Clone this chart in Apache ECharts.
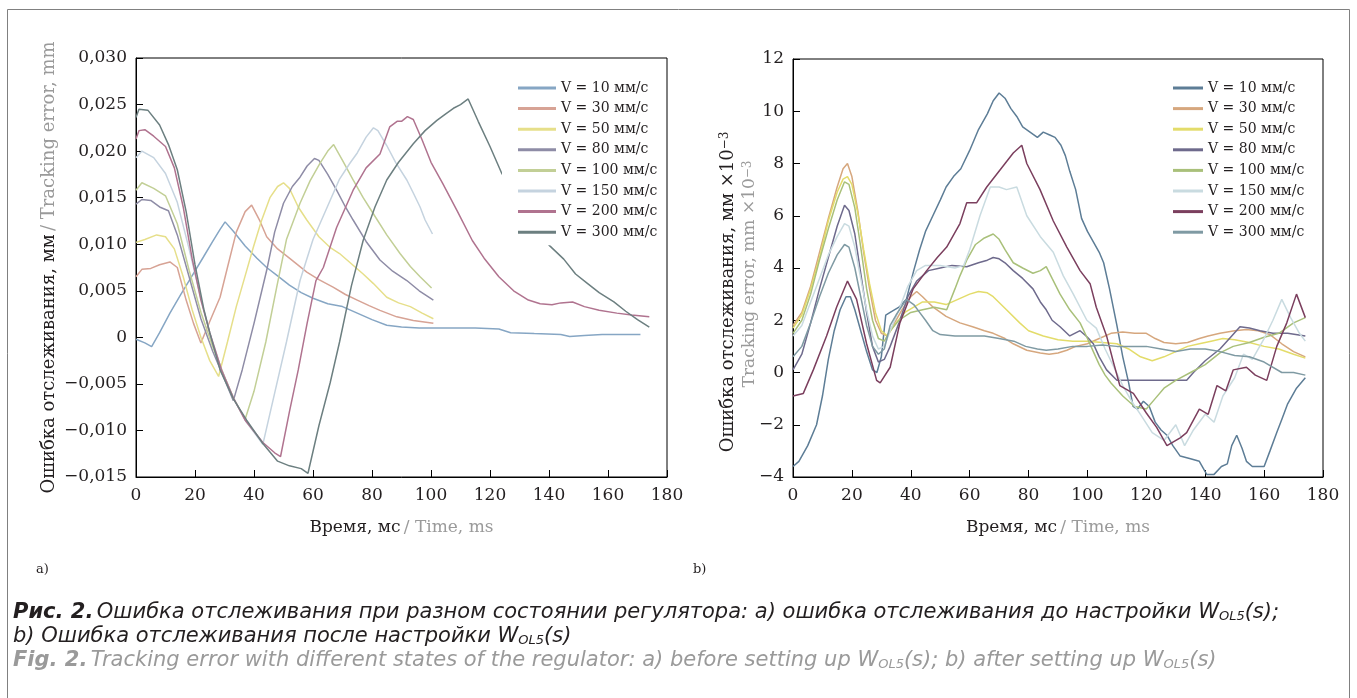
<!DOCTYPE html>
<html>
<head>
<meta charset="utf-8">
<script src="https://cdn.jsdelivr.net/npm/echarts@6/dist/echarts.min.js"></script>
<style>
  html, body { margin: 0; padding: 0; background: #fff; }
  #chart { width: 1357px; height: 698px; }
</style>
</head>
<body>
<div id="chart"></div>
<script>
// series names (same speeds on both panels)
const speedNames = ['V = 10 мм/с', 'V = 30 мм/с', 'V = 50 мм/с', 'V = 80 мм/с',
  'V = 100 мм/с', 'V = 150 мм/с', 'V = 200 мм/с', 'V = 300 мм/с'];

const xTicks = [0, 20, 40, 60, 80, 100, 120, 140, 160, 180];

// a) before tuning, [time ms, error mm]
const a10 = [[0,-0.0002],[3,-0.0006],[5.3,-0.001],[8,0.0005],[11.5,0.0026],[15,0.0045],[19,0.0066],[22.8,0.0086],[26,0.0103],[28.5,0.0116],[30.2,0.0124],[33,0.0114],[37,0.0098],[41,0.0085],[44.3,0.0075],[48,0.0066],[52,0.0056],[56,0.0048],[60,0.0042],[65,0.0036],[70,0.0033],[75,0.0026],[80,0.0019],[85,0.0013],[90,0.0011],[96,0.0010],[105,0.0010],[115,0.0010],[123,0.0009],[127,0.0005],[135,0.0004],[144,0.0003],[147,0.0001],[152,0.0002],[158,0.0003],[165,0.0003],[171,0.0003]];
const a30 = [[0,0.0065],[2,0.0073],[5,0.0074],[8,0.0078],[11.5,0.0081],[14,0.0075],[17,0.0040],[19.5,0.0015],[22,-0.0006],[25,0.0017],[28.5,0.0043],[31,0.0075],[34,0.0113],[37,0.0135],[39.2,0.0142],[42,0.0125],[44.3,0.0108],[48,0.0095],[52,0.0085],[57.9,0.0070],[62,0.0062],[66.8,0.0054],[71,0.0046],[75,0.0040],[79,0.0034],[82.7,0.0029],[88.4,0.0022],[94,0.0018],[100.8,0.0015]];
const a50 = [[0,0.0102],[3,0.0105],[7,0.0110],[10,0.0108],[13,0.0095],[16,0.0065],[19,0.0030],[22,0.0000],[25,-0.0025],[28,-0.0042],[31,-0.0005],[34,0.0033],[37,0.0066],[39.8,0.0097],[42.5,0.0125],[45.4,0.0150],[48,0.0162],[50,0.0166],[52,0.0160],[55,0.0140],[57.9,0.0126],[62,0.0108],[66,0.0096],[69,0.0090],[73,0.0079],[77,0.0068],[80.4,0.0058],[85,0.0043],[89,0.0037],[93,0.0033],[97,0.0026],[100.8,0.0020]];
const a80 = [[0,0.0143],[2,0.0148],[5,0.0147],[8,0.0140],[11,0.0136],[14,0.0110],[18,0.0065],[22,0.0020],[26,-0.0015],[30,-0.0045],[33,-0.0068],[36,-0.0035],[40,0.0015],[44.3,0.0072],[47,0.0113],[50,0.0144],[53,0.0162],[55.6,0.0172],[58,0.0184],[60.5,0.0192],[62,0.0190],[65,0.0175],[68,0.0158],[71,0.0140],[73.6,0.0126],[78,0.0103],[82.7,0.0083],[87,0.0071],[91.8,0.0061],[96,0.0050],[100.8,0.0040]];
const a100 = [[0,0.0158],[2,0.0166],[6,0.0160],[10,0.0152],[14,0.0122],[18,0.0072],[22,0.0027],[26,-0.001],[30,-0.0042],[33,-0.0065],[37,-0.0088],[40,-0.0058],[44,-0.0005],[47.7,0.0054],[51,0.0105],[55.6,0.0144],[59,0.0168],[62.4,0.0187],[65,0.0200],[67,0.0207],[70,0.0190],[73.6,0.0169],[77,0.0150],[80.4,0.0133],[85,0.0110],[89.5,0.0090],[93,0.0076],[96.3,0.0065],[100.2,0.0053]];
const a150 = [[0,0.0193],[2,0.0200],[6,0.0193],[10,0.0176],[14,0.0145],[18,0.0095],[22,0.0042],[25,0.0005],[29,-0.0035],[33,-0.0065],[37,-0.0089],[40,-0.0102],[43,-0.0115],[47,-0.0060],[51,-0.0005],[55.6,0.0061],[60,0.0105],[65.8,0.0147],[69,0.0170],[72.5,0.0187],[75,0.0198],[78,0.0215],[80.5,0.0225],[82,0.0222],[85,0.0206],[88,0.0188],[91.8,0.0169],[94,0.0155],[96.3,0.0140],[98,0.0126],[100.5,0.0111]];
const a200 = [[0,0.0213],[1,0.0222],[3,0.0223],[6,0.0216],[10,0.0205],[13,0.0182],[16,0.0140],[19,0.0085],[22,0.0040],[25,0.0005],[29,-0.0035],[33,-0.0065],[37,-0.0089],[43,-0.0113],[47,-0.0124],[49,-0.0128],[52,-0.0080],[55,-0.0035],[58,0.0015],[61,0.0061],[63.5,0.0075],[68,0.0118],[73.6,0.0158],[78,0.0182],[82.7,0.0197],[86,0.0226],[88.5,0.0232],[90,0.0232],[92,0.0237],[94,0.0234],[97,0.0212],[100,0.0188],[104,0.0165],[109,0.0135],[114,0.0104],[118,0.0085],[123,0.0065],[128,0.0050],[133,0.0040],[137,0.0036],[141,0.0035],[144,0.0037],[148,0.0038],[152,0.0033],[157,0.0029],[163,0.0026],[168,0.0024],[174,0.0022]];
const a300 = [[0,0.0236],[1,0.0245],[4,0.0244],[8,0.0228],[11,0.0207],[14,0.0180],[17,0.0135],[20,0.0078],[23,0.0030],[25,0.0005],[28.5,-0.0035],[33,-0.0066],[37.5,-0.0089],[43,-0.0114],[48,-0.0133],[52,-0.0138],[56,-0.0141],[58.3,-0.0146],[62,-0.0095],[65.8,-0.0049],[69,-0.0005],[73,0.0055],[77,0.0104],[81,0.0140],[85,0.0169],[89,0.0188],[94,0.0208],[98,0.0222],[102,0.0233],[105,0.0240],[107.6,0.0246],[110,0.0250],[112.6,0.0256],[116,0.0232],[120,0.0205],[124,0.0176],[128,0.0155],[132,0.0135],[136,0.0115],[140,0.0099],[145,0.0084],[149,0.0068],[153,0.0058],[157,0.0048],[162,0.0038],[166,0.0028],[170,0.0019],[174,0.0011]];

// b) after tuning, [time ms, error mm x10^-3]
const b10 = [[0,-3.6],[2,-3.4],[5,-2.8],[8,-2.0],[10,-0.9],[12,0.5],[14,1.6],[16,2.4],[18,2.9],[19.5,2.9],[21,2.4],[23,1.6],[25,0.8],[27,0.1],[28.5,0.0],[30,0.6],[31.5,2.2],[33,2.3],[36,2.5],[38.5,2.8],[41,3.9],[43,4.7],[45,5.4],[47.5,6.0],[50,6.6],[52,7.1],[54.5,7.5],[57,7.8],[60,8.5],[63,9.3],[66,9.9],[68,10.4],[70,10.7],[72,10.5],[74,10.1],[76,9.8],[78,9.4],[80.5,9.2],[83,9.0],[85,9.2],[87,9.1],[89,9.0],[91,8.7],[92.5,8.3],[94,7.7],[96,7.0],[98,5.9],[100,5.4],[102,5.0],[104,4.6],[105.5,4.2],[107.5,3.2],[110,1.8],[112,0.6],[114,-0.4],[115.5,-1.3],[117,-1.4],[119,-1.1],[121,-1.3],[123,-1.9],[125,-2.2],[127,-2.4],[129,-2.8],[131.5,-3.2],[135,-3.3],[138,-3.4],[140.5,-3.9],[143,-3.9],[145.5,-3.6],[147.5,-3.5],[149,-2.8],[150.7,-2.4],[152.5,-2.9],[154,-3.4],[156,-3.6],[160,-3.6],[162,-3.0],[164.3,-2.3],[166,-1.8],[168,-1.2],[171,-0.6],[174,-0.2]];
const b30 = [[0,1.8],[3,2.3],[6,3.3],[9,4.6],[12,5.9],[15,7.1],[17,7.8],[18.5,8.0],[20,7.5],[22,6.2],[24,4.6],[26,3.2],[28,2.0],[30,1.5],[32,1.4],[34,1.8],[37,2.4],[40,2.9],[42,3.1],[44,2.9],[47.6,2.5],[52,2.15],[56.7,1.9],[61,1.75],[65,1.6],[68,1.5],[72,1.3],[74.8,1.1],[79.4,0.85],[84,0.75],[87,0.7],[90,0.75],[93,0.85],[96,1.0],[100,1.1],[104,1.3],[108,1.5],[112,1.55],[116,1.5],[120,1.5],[123,1.3],[126,1.15],[130,1.1],[134,1.15],[138,1.3],[141,1.4],[145,1.5],[150,1.6],[154,1.65],[158,1.6],[162,1.45],[166,1.1],[170,0.8],[174,0.6]];
const b50 = [[0,1.7],[3,2.2],[6,3.2],[9,4.4],[12,5.8],[15,6.9],[17,7.4],[18.5,7.5],[20,7.2],[22,6.1],[24,4.7],[26,3.4],[28,2.3],[30,1.6],[32,1.4],[35,1.9],[38,2.3],[41,2.5],[44,2.7],[48,2.7],[52,2.6],[56,2.8],[60,3.0],[63,3.1],[66,3.05],[68,2.9],[72.5,2.4],[77,1.9],[80,1.6],[85,1.4],[90,1.25],[95,1.2],[100,1.2],[105,1.15],[110,1.1],[114,0.9],[118,0.6],[122,0.45],[126,0.6],[130,0.8],[134,1.0],[138,1.1],[142,1.2],[146,1.3],[150,1.25],[155,1.15],[160,1.0],[165,0.9],[170,0.7],[174,0.55]];
const b80 = [[0,0.1],[3,0.7],[6,1.9],[9,3.2],[12,4.4],[15,5.6],[17.5,6.4],[19,6.2],[21,5.3],[23,3.8],[25,2.3],[27,1.0],[29,0.4],[31,0.5],[33,1.0],[36,1.9],[39,2.9],[42,3.5],[46,3.9],[50,4.0],[54,4.1],[59,4.05],[63,4.2],[66,4.3],[68,4.4],[70,4.35],[72,4.2],[74.8,3.9],[78,3.6],[81.5,3.2],[84,2.7],[86,2.4],[88,2.0],[90.7,1.75],[94,1.4],[97.5,1.6],[100,1.35],[102,1.1],[104,0.6],[106.5,0.1],[110,-0.3],[120,-0.3],[128,-0.3],[133.7,-0.3],[136,0.0],[140,0.45],[145,0.9],[149,1.4],[151.8,1.75],[155,1.7],[158.6,1.6],[163,1.5],[168,1.5],[174,1.4]];
const b100 = [[0,1.5],[3,2.0],[6,3.0],[9,4.3],[12,5.5],[15,6.6],[17.5,7.3],[19,7.2],[21,6.3],[23,4.8],[25,3.2],[27,2.0],[29,1.3],[31,1.2],[33,1.6],[36,2.0],[40,2.3],[44,2.4],[48,2.5],[52.2,2.4],[55,3.2],[56.7,3.7],[59,4.3],[62,4.9],[65,5.15],[68,5.3],[70,5.1],[72,4.7],[74.8,4.2],[78,4.0],[81.5,3.8],[84,3.9],[86,4.05],[88,3.6],[90.7,3.0],[94,2.4],[97.5,1.9],[100,1.3],[102,0.8],[104,0.3],[106,-0.1],[108,-0.4],[112,-0.9],[116,-1.3],[120,-1.4],[123,-1.0],[126,-0.6],[130,-0.3],[135,0.0],[140,0.3],[145,0.75],[149.5,1.0],[155,1.15],[160,1.35],[165,1.5],[170,1.9],[174,2.1]];
const b150 = [[0,1.4],[3,1.8],[6,2.7],[9,3.6],[12,4.5],[15,5.2],[17.5,5.7],[19,5.6],[21,4.8],[23,3.6],[25,2.4],[27,1.4],[29,0.9],[31,1.0],[33,1.6],[36,2.4],[39,3.3],[42,3.9],[45,4.1],[50,4.1],[55,4.0],[58,4.1],[60,4.7],[63.5,6.0],[67,7.1],[70,7.1],[72.5,7.0],[76,7.1],[79.4,6.0],[84,5.2],[88.4,4.6],[91.8,3.7],[95.2,3.0],[99.8,2.0],[103,1.7],[106,0.9],[109,0.2],[112,-0.5],[115,-1.1],[118,-1.6],[122,-2.3],[126,-2.6],[130,-2.0],[133,-2.8],[136,-2.2],[140,-1.6],[143,-1.9],[146,-0.9],[150,-0.2],[153,0.7],[156,0.5],[160,1.3],[163,2.0],[166,2.8],[169,2.1],[172,1.5],[174,1.2]];
const b200 = [[0,-0.9],[3.5,-0.8],[6.9,0.1],[11.4,1.4],[14.8,2.5],[18.5,3.5],[21.6,2.8],[25,1.1],[28.4,-0.3],[29.6,-0.4],[33,0.2],[36.3,1.9],[40.8,3.2],[45.4,3.9],[49,4.4],[52.2,4.8],[56.7,5.7],[59,6.5],[62.4,6.5],[65.8,7.1],[70.3,7.75],[74.8,8.4],[77.7,8.7],[79.4,8.0],[83.9,7.0],[88.4,5.8],[93,4.8],[97.5,3.9],[100.9,3.4],[103,2.5],[106.5,1.4],[108.8,0.4],[111,-0.5],[115.6,-0.8],[120,-1.55],[123.5,-2.1],[127,-2.8],[131.5,-2.5],[133.7,-2.3],[138,-1.4],[141,-1.6],[144,-0.5],[147,-0.7],[149.5,0.1],[154,0.2],[157,-0.1],[160.9,-0.3],[164.3,1.0],[167.7,1.9],[171,3.0],[174,2.1]];
const b300 = [[0,0.6],[3,1.0],[6,1.9],[9,2.9],[12,3.8],[15,4.5],[17.5,4.9],[19,4.8],[21,4.0],[23,2.9],[25,1.8],[27,1.0],[29,0.7],[31,0.9],[33,1.8],[35,2.2],[38.5,2.8],[41,2.6],[43,2.3],[45,2.0],[47.5,1.6],[50,1.45],[55,1.4],[60,1.4],[65,1.4],[70,1.3],[75,1.2],[79,1.0],[83,0.9],[86,0.85],[90,0.9],[95,1.0],[100,1.0],[105,1.05],[110,1.0],[115,1.0],[120,1.0],[125,0.9],[130,0.8],[135,0.9],[140,0.9],[145,0.8],[150,0.65],[155,0.6],[160,0.4],[166,0.0],[170,0.0],[174,-0.1]];

const leftColors = ['#86a6c4', '#d7a395', '#e6df8a', '#8e8ca6', '#c2cf96', '#c5d3df', '#b0738f', '#6c7f80'];
const rightColors = ['#5d7d96', '#d6a77e', '#e3dc6a', '#6e6a8c', '#a9c07a', '#c9dbe0', '#7b3f5e', '#7f9aa3'];

const leftData = [a10, a30, a50, a80, a100, a150, a200, a300];
const rightData = [b10, b30, b50, b80, b100, b150, b200, b300];

const INK = '#231f20';
const GREY = '#9a9a9a';
const SERIF = '"DejaVu Serif", serif';
const SANS = '"DejaVu Sans", sans-serif';

const myChart = echarts.init(document.getElementById('chart'));

function fmtLeft(v) {
  if (Math.abs(v) < 1e-9) return '0';
  let s = Math.abs(v).toFixed(3).replace('.', ',');
  return (v < 0 ? '\u2212' : '') + s;
}
function fmtRight(v) {
  return (v < 0 ? '\u2212' : '') + Math.abs(v);
}

function axisCommon() {
  return {
    axisLine: { onZero: false, lineStyle: { color: '#000', width: 1 } },
    axisTick: { inside: true, length: 7, lineStyle: { color: '#000' } },
    splitLine: { show: false }
  };
}

let series = [];
speedNames.forEach((n, i) => {
  series.push({
    type: 'line', name: n, xAxisIndex: 0, yAxisIndex: 0,
    data: leftData[i], symbol: 'none', smooth: false,
    lineStyle: { width: 1.5, color: leftColors[i] },
    itemStyle: { color: leftColors[i] }
  });
});
speedNames.forEach((n, i) => {
  series.push({
    type: 'line', name: n + ' (b)', xAxisIndex: 1, yAxisIndex: 1,
    data: rightData[i], symbol: 'none', smooth: false,
    lineStyle: { width: 1.5, color: rightColors[i] },
    itemStyle: { color: rightColors[i] }
  });
});

const nameRich = {
  a: { color: INK, fontFamily: SERIF, fontSize: 17 },
  b: { color: GREY, fontFamily: SERIF, fontSize: 17 }
};
const yNameRich = {
  a: { color: INK, fontFamily: SERIF, fontSize: 18 },
  b: { color: GREY, fontFamily: SERIF, fontSize: 18 }
};

// caption text styles (graphic text uses fill)
const capRich = {
  b: { fontFamily: SANS, fontSize: 21, fontStyle: 'italic', fontWeight: 'bold', fill: INK },
  i: { fontFamily: SANS, fontSize: 21, fontStyle: 'italic', fill: INK },
  s: { fontFamily: SANS, fontSize: 13, fontStyle: 'italic', fill: INK, verticalAlign: 'bottom' },
  gb: { fontFamily: SANS, fontSize: 21, fontStyle: 'italic', fontWeight: 'bold', fill: GREY },
  gi: { fontFamily: SANS, fontSize: 21, fontStyle: 'italic', fill: GREY },
  gs: { fontFamily: SANS, fontSize: 13, fontStyle: 'italic', fill: GREY, verticalAlign: 'bottom' }
};

let option = {
  animation: false,
  backgroundColor: '#fff',
  grid: [
    { left: 136, top: 58, width: 531, height: 419, show: true, borderColor: '#000', borderWidth: 1, backgroundColor: 'transparent' },
    { left: 793, top: 59, width: 530, height: 418, show: true, borderColor: '#000', borderWidth: 1, backgroundColor: 'transparent' }
  ],
  xAxis: [0, 1].map(g => Object.assign(axisCommon(), {
    type: 'value', gridIndex: g, min: xTicks[0], max: xTicks[xTicks.length - 1], interval: 20,
    name: '{a|Время, мс} {b|/ Time, ms}', nameLocation: 'middle', nameGap: 42,
    nameTextStyle: { rich: nameRich },
    axisLabel: { color: INK, fontFamily: SERIF, fontSize: 17, margin: 10 }
  })),
  yAxis: [
    Object.assign(axisCommon(), {
      type: 'value', gridIndex: 0, min: -0.015, max: 0.03, interval: 0.005,
      name: '{a|Ошибка отслеживания, мм} {b|/ Tracking error, mm}',
      nameLocation: 'middle', nameGap: 78,
      nameTextStyle: { rich: yNameRich },
      axisLabel: { color: INK, fontFamily: SERIF, fontSize: 17, margin: 9, formatter: fmtLeft }
    }),
    Object.assign(axisCommon(), {
      type: 'value', gridIndex: 1, min: -4, max: 12, interval: 2,
      axisLabel: { color: INK, fontFamily: SERIF, fontSize: 17, margin: 9, formatter: fmtRight }
    })
  ],
  legend: [
    {
      data: speedNames, orient: 'vertical', left: 502, top: 61,
      padding: [20, 6, 6, 16], backgroundColor: '#fff',
      icon: 'rect', itemWidth: 38, itemHeight: 3, itemGap: 6.6,
      textStyle: { color: INK, fontFamily: SERIF, fontSize: 14 },
      selectedMode: false
    },
    {
      data: speedNames.map(n => n + ' (b)'), orient: 'vertical', left: 1161, top: 61,
      padding: [20, 6, 6, 12], backgroundColor: '#fff',
      icon: 'rect', itemWidth: 30, itemHeight: 3, itemGap: 6.6,
      formatter: name => name.replace(' (b)', ''),
      textStyle: { color: INK, fontFamily: SERIF, fontSize: 14 },
      selectedMode: false
    }
  ],
  series: series,
  graphic: [
    { type: 'polyline', silent: true, shape: { points: [[7.5, 698], [7.5, 9.5], [1349.5, 9.5], [1349.5, 698]] },
      style: { stroke: '#808080', lineWidth: 1, fill: null } },
    { type: 'text', left: 36, top: 563, style: { text: 'a)', fill: INK, font: '13px "DejaVu Serif"' } },
    { type: 'text', left: 693, top: 563, style: { text: 'b)', fill: INK, font: '13px "DejaVu Serif"' } },
    { type: 'text', x: 728, y: 292, rotation: Math.PI / 2,
      style: { text: '{a|Ошибка отслеживания, мм ×10}{s|−3}', align: 'center', verticalAlign: 'middle',
        rich: { a: { fill: INK, fontFamily: SERIF, fontSize: 18 }, s: { fill: INK, fontFamily: SERIF, fontSize: 12, verticalAlign: 'top' } } } },
    { type: 'text', x: 750, y: 274, rotation: Math.PI / 2,
      style: { text: '{a|Tracking error, mm ×10}{s|−3}', align: 'center', verticalAlign: 'middle',
        rich: { a: { fill: GREY, fontFamily: SERIF, fontSize: 17 }, s: { fill: GREY, fontFamily: SERIF, fontSize: 12, verticalAlign: 'top' } } } },
    { type: 'text', x: 13, y: 613,
      style: { text: '{b|Рис. 2.} {i|Ошибка отслеживания при разном состоянии регулятора: a) ошибка отслеживания до настройки W}{s|OL5}{i|(s);}',
        verticalAlign: 'middle', rich: capRich } },
    { type: 'text', x: 13, y: 637,
      style: { text: '{i|b) Ошибка отслеживания после настройки W}{s|OL5}{i|(s)}',
        verticalAlign: 'middle', rich: capRich } },
    { type: 'text', x: 13, y: 661,
      style: { text: '{gb|Fig. 2.} {gi|Tracking error with different states of the regulator: a) before setting up W}{gs|OL5}{gi|(s); b) after setting up W}{gs|OL5}{gi|(s)}',
        verticalAlign: 'middle', rich: capRich } }
  ]
};

myChart.setOption(option);
</script>
</body>
</html>
